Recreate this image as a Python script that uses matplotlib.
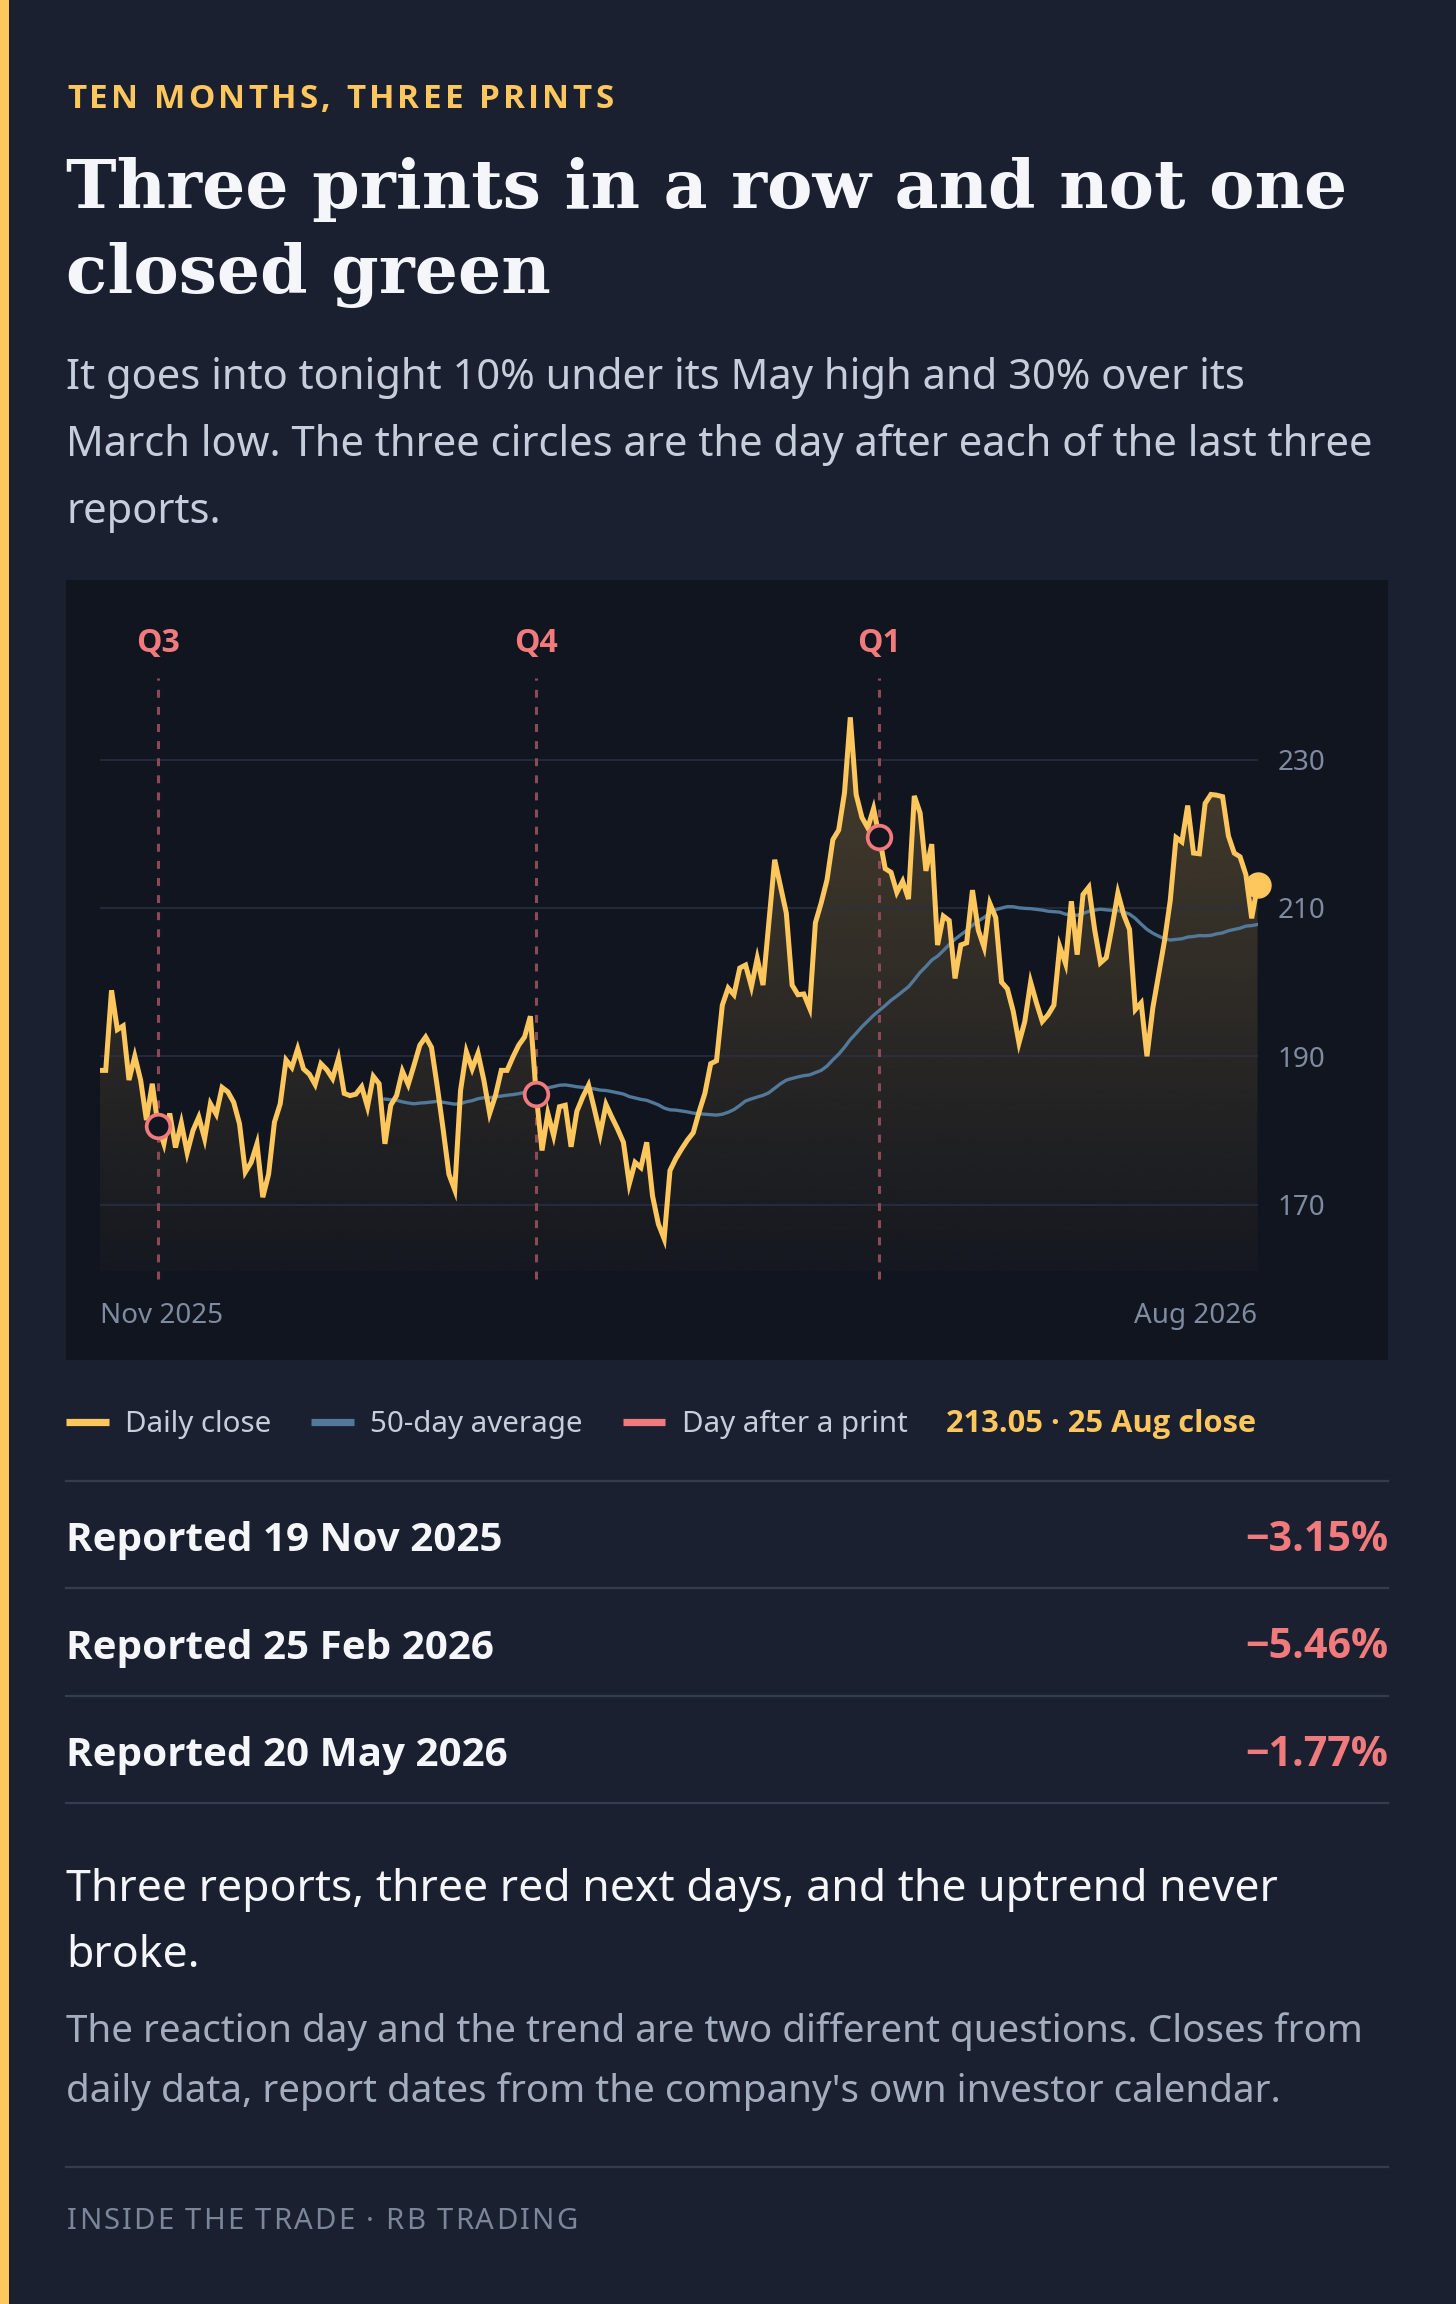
import numpy as np
import pandas as pd
import matplotlib
matplotlib.use('Agg')
import matplotlib.pyplot as plt
from matplotlib.patches import Rectangle
from matplotlib.font_manager import FontProperties
from matplotlib.colors import LinearSegmentedColormap

# daily closes, Nov 2025 -> 25 Aug 2026 (trading days)
close = [
    188.1, 188.1, 198.9, 193.6, 194.1, 186.8, 190.0, 186.8, 181.4, 186.3,
    180.6, 178.2, 182.3, 177.7, 181.0, 177.0, 180.0, 181.8, 178.9, 183.6,
    182.2, 185.8, 185.2, 183.8, 180.9, 174.4, 175.7, 178.2, 171.0, 174.1,
    181.1, 183.6, 189.5, 188.5, 191.0, 188.3, 187.6, 186.2, 189.0, 188.2,
    187.0, 189.7, 185.0, 184.7, 184.9, 185.9, 183.2, 187.3, 186.3, 178.2,
    183.4, 184.7, 188.0, 186.2, 188.8, 191.5, 192.6, 191.2, 185.9, 180.2,
    174.1, 172.0, 185.4, 190.6, 188.3, 190.4, 186.8, 182.3, 184.7, 188.1,
    188.1, 189.9, 191.5, 192.6, 195.4, 184.9, 177.3, 182.3, 179.3, 183.2,
    183.4, 177.8, 182.6, 184.5, 186.1, 182.9, 179.5, 183.5, 181.8, 180.2,
    178.4, 172.8, 175.7, 175.0, 178.4, 171.2, 167.4, 165.4, 174.6, 176.2,
    177.5, 178.7, 179.7, 182.5, 185.0, 189.0, 189.4, 196.9, 199.2, 198.3,
    201.9, 202.3, 199.4, 203.2, 199.6, 208.0, 216.5, 212.9, 209.3, 199.6,
    198.3, 198.4, 196.5, 208.0, 210.7, 213.8, 219.2, 220.5, 225.5, 235.7,
    225.3, 222.2, 220.8, 223.4, 219.5, 215.3, 214.8, 212.1, 213.6, 211.2,
    225.1, 222.8, 215.0, 218.6, 205.0, 208.9, 208.3, 200.5, 205.0, 205.3,
    212.4, 207.0, 204.7, 210.6, 208.7, 200.0, 199.1, 196.1, 191.8, 194.7,
    200.0, 197.2, 194.7, 195.6, 196.9, 204.8, 202.5, 210.9, 203.7, 211.8,
    212.8, 207.1, 202.6, 203.3, 207.5, 212.0, 209.1, 207.1, 196.3, 197.2,
    190.0, 196.5, 201.0, 205.5, 211.0, 219.5, 218.9, 223.8, 217.4, 217.3,
    224.1, 225.3, 225.2, 225.0, 219.7, 217.4, 216.9, 214.5, 208.6, 213.05,
]
print_idx = [10, 75, 134]
print_names = ['Q3', 'Q4', 'Q1']
y_ticks = [170, 190, 210, 230]
x_labels = ['Nov 2025', 'Aug 2026']
report_dates = ['Reported 19 Nov 2025', 'Reported 25 Feb 2026', 'Reported 20 May 2026']
report_moves = ['\u22123.15%', '\u22125.46%', '\u22121.77%']

BG = '#1b2030'
PANEL = '#11151f'
GOLD = '#fdc75d'
BLUE = '#52789a'
RED = '#f07a7c'
DASH = '#8c4a56'
GRID = '#283142'
RULE = '#333d50'
WHITE = '#f4f6fa'
SOFT = '#c6cedb'
GREY = '#a3adbd'
AXIS = '#7f8ba0'
SANS = 'Noto Sans'
BOLD = 'Open Sans'
SERIF = 'DejaVu Serif'

W, H = 1456, 2304
fig = plt.figure(figsize=(W / 100, H / 100), dpi=100)
fig.patch.set_facecolor(BG)
bg = fig.add_axes([0, 0, 1, 1])
bg.set_xlim(0, W)
bg.set_ylim(H, 0)
bg.axis('off')
renderer = fig.canvas.get_renderer()


def txt(x, y, s, px, color, family=SANS, weight='normal', ha='left', **kw):
    return bg.text(x, y, s, fontsize=px * 0.72, color=color, family=family,
                   fontweight=weight, ha=ha, va='baseline', **kw)


def fit(t, width):
    w = t.get_window_extent(renderer).width
    t.set_fontsize(t.get_fontsize() * width / w)
    return t.get_fontsize()


def tracked(x, y, s, width, color, family=SANS, weight='normal', track=0.1):
    # letter-spaced caps: size chosen so the run spans `width` pixels
    def adv(t, prop):
        bar = renderer.get_text_width_height_descent('|', prop, ismath=False)[0]
        return renderer.get_text_width_height_descent(t + '|', prop, ismath=False)[0] - bar
    test = FontProperties(family=family, weight=weight, size=72)  # 100 px
    nat = adv(s, test) / 100.0
    px = width / (nat + (len(s) - 1) * track)
    prop = FontProperties(family=family, weight=weight, size=px * 0.72)
    for i, ch in enumerate(s):
        if ch == ' ':
            continue
        bg.text(x + adv(s[:i], prop) + i * track * px, y, ch, fontproperties=prop,
                color=color, ha='left', va='baseline')


# frame pieces
bg.add_patch(Rectangle((0, 0), 9, H, color=GOLD, lw=0))
bg.add_patch(Rectangle((66, 580), 1322, 780, color=PANEL, lw=0))

# header
tracked(67, 108, 'TEN MONTHS, THREE PRINTS', 547, GOLD, family=BOLD, weight='bold', track=0.1)
t1 = txt(66, 208, 'Three prints in a row and not one', 80, WHITE, family=SERIF, weight='bold')
size = fit(t1, 1280)
t2 = txt(66, 293, 'closed green', 80, WHITE, family=SERIF, weight='bold')
t2.set_fontsize(size)

sub = ['It goes into tonight 10% under its May high and 30% over its',
       'March low. The three circles are the day after each of the last three',
       'reports.']
subs = [txt(66, 389 + 67 * i, s, 42, SOFT) for i, s in enumerate(sub)]
size = fit(subs[1], 1310)
for t in subs:
    t.set_fontsize(size)

# chart
L, R, T, B = 99.9, 1257.5, 678.0, 1271.4
ax = fig.add_axes([L / W, 1 - B / H, (R - L) / W, (B - T) / H])
ax.patch.set_visible(False)
x = np.arange(len(close))
ax.set_xlim(0, len(close) - 1)
ax.set_ylim(161, 241)
for s in ax.spines.values():
    s.set_visible(False)

ma = pd.Series(close).rolling(50).mean()

poly = ax.fill_between(x, close, 161, color='none', lw=0)
grad = np.linspace(0.02, 0.25, 256).reshape(-1, 1)
cmap = LinearSegmentedColormap.from_list('g', [(0.99, 0.78, 0.36, 0.0), (0.99, 0.78, 0.36, 1.0)])
img = ax.imshow(grad, extent=[0, len(close) - 1, 161, 241], origin='lower', aspect='auto',
                cmap=cmap, vmin=0, vmax=1, zorder=0.3, interpolation='bilinear')
img.set_clip_path(poly.get_paths()[0], transform=ax.transData)

for v in y_ticks:
    ax.axhline(v, color=GRID, lw=1.1, zorder=0.6)

ax.vlines(print_idx, 160.0, 241, colors=DASH, lw=2.2, linestyles=(0, (2.6, 3.0)),
          clip_on=False, zorder=1)
ax.plot(x, ma, color=BLUE, lw=2.4, zorder=2)
ax.plot(x, close, color=GOLD, lw=3.6, zorder=3, solid_joinstyle='miter')
ax.plot(print_idx, [close[i] for i in print_idx], 'o', ms=17, mfc=PANEL, mec=RED,
        mew=2.7, zorder=4, clip_on=False)
ax.plot(x[-1], close[-1], 'o', ms=18, color=GOLD, zorder=5, clip_on=False)

for i, q in zip(print_idx, print_names):
    ax.annotate(q, (i, 1), xycoords=('data', 'axes fraction'), xytext=(0, 25),
                textcoords='offset points', ha='center', va='center', color=RED,
                fontsize=23, fontweight='bold', family=BOLD, annotation_clip=False)

ax.yaxis.tick_right()
ax.set_yticks(y_ticks)
ax.tick_params(axis='y', length=0, pad=14.5, labelsize=20, labelcolor=AXIS)
ax.set_xticks([0, len(close) - 1], x_labels)
ax.tick_params(axis='x', length=0, pad=22, labelsize=20, labelcolor=AXIS)
for lab in ax.get_yticklabels() + ax.get_xticklabels():
    lab.set_family(SANS)
xl = ax.get_xticklabels()
xl[0].set_ha('left')
xl[1].set_ha('right')

# legend row
for (x0, x1), c in zip([(66, 109), (311, 354), (623, 665)], [GOLD, BLUE, RED]):
    bg.plot([x0, x1], [1422, 1422], color=c, lw=5.2, solid_capstyle='butt')
ref = txt(370, 1432, '50-day average', 30, SOFT)
size = fit(ref, 212)
txt(125, 1432, 'Daily close', 30, SOFT).set_fontsize(size)
txt(682, 1432, 'Day after a print', 30, SOFT).set_fontsize(size)
last = txt(946, 1432, '213.05 \u00b7 25 Aug close', 30, GOLD, family=BOLD, weight='bold')
fit(last, 311)

# report rows
for yy in [1480.5, 1588, 1695.5, 1803]:
    bg.plot([66, 1388], [yy, yy], color=RULE, lw=1.6)
rows = [txt(66, 1551 + 107.5 * i, d, 40, WHITE, family=BOLD, weight='bold')
        for i, d in enumerate(report_dates)]
size = fit(rows[0], 436)
for t in rows:
    t.set_fontsize(size)
vals = [txt(1388, 1551 + 107.5 * i, m, 40, RED, family=BOLD, weight='bold', ha='right')
        for i, m in enumerate(report_moves)]
size = fit(vals[0], 143)
for t in vals:
    t.set_fontsize(size)

# takeaway and note
c1 = txt(66, 1901, 'Three reports, three red next days, and the uptrend never', 46, WHITE)
size = fit(c1, 1211)
txt(66, 1967, 'broke.', 46, WHITE).set_fontsize(size)
n1 = txt(66, 2042, 'The reaction day and the trend are two different questions. Closes from', 40, GREY)
size = fit(n1, 1299)
txt(66, 2102, "daily data, report dates from the company's own investor calendar.", 40, GREY).set_fontsize(size)

bg.plot([66, 1388], [2166.5, 2166.5], color=RULE, lw=1.6)
tracked(67, 2229, 'INSIDE THE TRADE \u00b7 RB TRADING', 510, '#7b869a', track=0.07)

fig.savefig('out.png', dpi=100, facecolor=BG)
